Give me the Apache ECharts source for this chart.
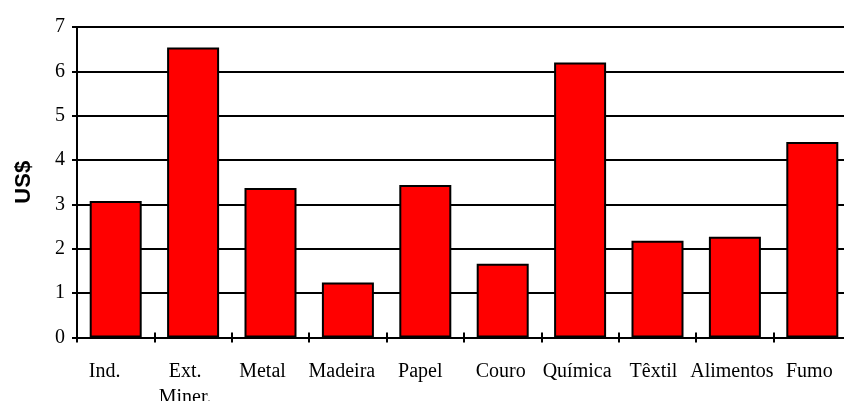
<!DOCTYPE html>
<html>
<head>
<meta charset="utf-8">
<script src="https://cdn.jsdelivr.net/npm/echarts@6/dist/echarts.min.js"></script>
<style>
  html, body { margin: 0; padding: 0; background: #fff; }
  #chart { width: 844px; height: 401px; }
</style>
</head>
<body>
<div id="chart"></div>
<script>
// Sector categories and values (US$)
const categories = ['Ind.', 'Ext.\nMiner.', 'Metal', 'Madeira', 'Papel', 'Couro', 'Química', 'Têxtil', 'Alimentos', 'Fumo'];
const values = [3.08, 6.54, 3.37, 1.24, 3.44, 1.66, 6.20, 2.18, 2.27, 4.41];
const yMin = 0;
const yMax = 7;
const yStep = 1;

// leftward nudge (px) of each category label from its slot centre
const labelNudge = [11, 8, 8, 6, 5, 2, 3, 4, 3, 3];

const serif = '"Liberation Serif", "Times New Roman", serif';
const plotRect = { left: 77, top: 27, right: -7, bottom: 63.5, containLabel: false, outerBoundsMode: 'none' };

const categoryItems = categories.map((name, i) => ({
  value: name,
  textStyle: { padding: [0, labelNudge[i] * 2, 0, 0] }
}));

const chart = echarts.init(document.getElementById('chart'), null, { renderer: 'canvas' });

chart.setOption({
  backgroundColor: '#ffffff',
  animation: false,
  // second grid overlays the first; it only carries the upper half of the crossing category ticks
  grid: [Object.assign({}, plotRect), Object.assign({}, plotRect)],
  xAxis: [
    {
      type: 'category',
      gridIndex: 0,
      data: categoryItems,
      position: 'bottom',
      axisLine: { show: true, lineStyle: { color: '#000', width: 2 } },
      axisTick: { show: true, length: 5, lineStyle: { color: '#000', width: 2 } },
      axisLabel: { color: '#000', fontFamily: serif, fontSize: 20, lineHeight: 26, margin: 21, interval: 0 },
      splitLine: { show: false }
    },
    {
      type: 'category',
      gridIndex: 1,
      data: categories,
      position: 'bottom',
      z: 5,
      axisLine: { show: false },
      axisTick: { show: true, inside: true, length: 5, lineStyle: { color: '#000', width: 2 } },
      axisLabel: { show: false },
      splitLine: { show: false }
    }
  ],
  yAxis: [
    {
      type: 'value',
      gridIndex: 0,
      min: yMin,
      max: yMax,
      interval: yStep,
      name: 'US$',
      nameLocation: 'middle',
      nameGap: 42,
      nameMoveOverlap: false,
      nameTextStyle: { color: '#000', fontFamily: '"Liberation Sans", Arial, sans-serif', fontWeight: 'bold', fontSize: 22 },
      axisLine: { show: true, lineStyle: { color: '#000', width: 2 } },
      axisTick: { show: true, length: 5, lineStyle: { color: '#000', width: 2 } },
      axisLabel: { color: '#000', fontFamily: serif, fontSize: 20, margin: 12 },
      splitLine: { show: true, lineStyle: { color: '#000', width: 2 } }
    },
    {
      type: 'value',
      gridIndex: 1,
      min: yMin,
      max: yMax,
      interval: yStep,
      show: false,
      splitLine: { show: false }
    }
  ],
  series: [{
    type: 'bar',
    xAxisIndex: 0,
    yAxisIndex: 0,
    data: values,
    barWidth: 52,
    itemStyle: { color: '#ff0000', borderColor: '#000', borderWidth: 2 }
  }]
});
</script>
</body>
</html>
